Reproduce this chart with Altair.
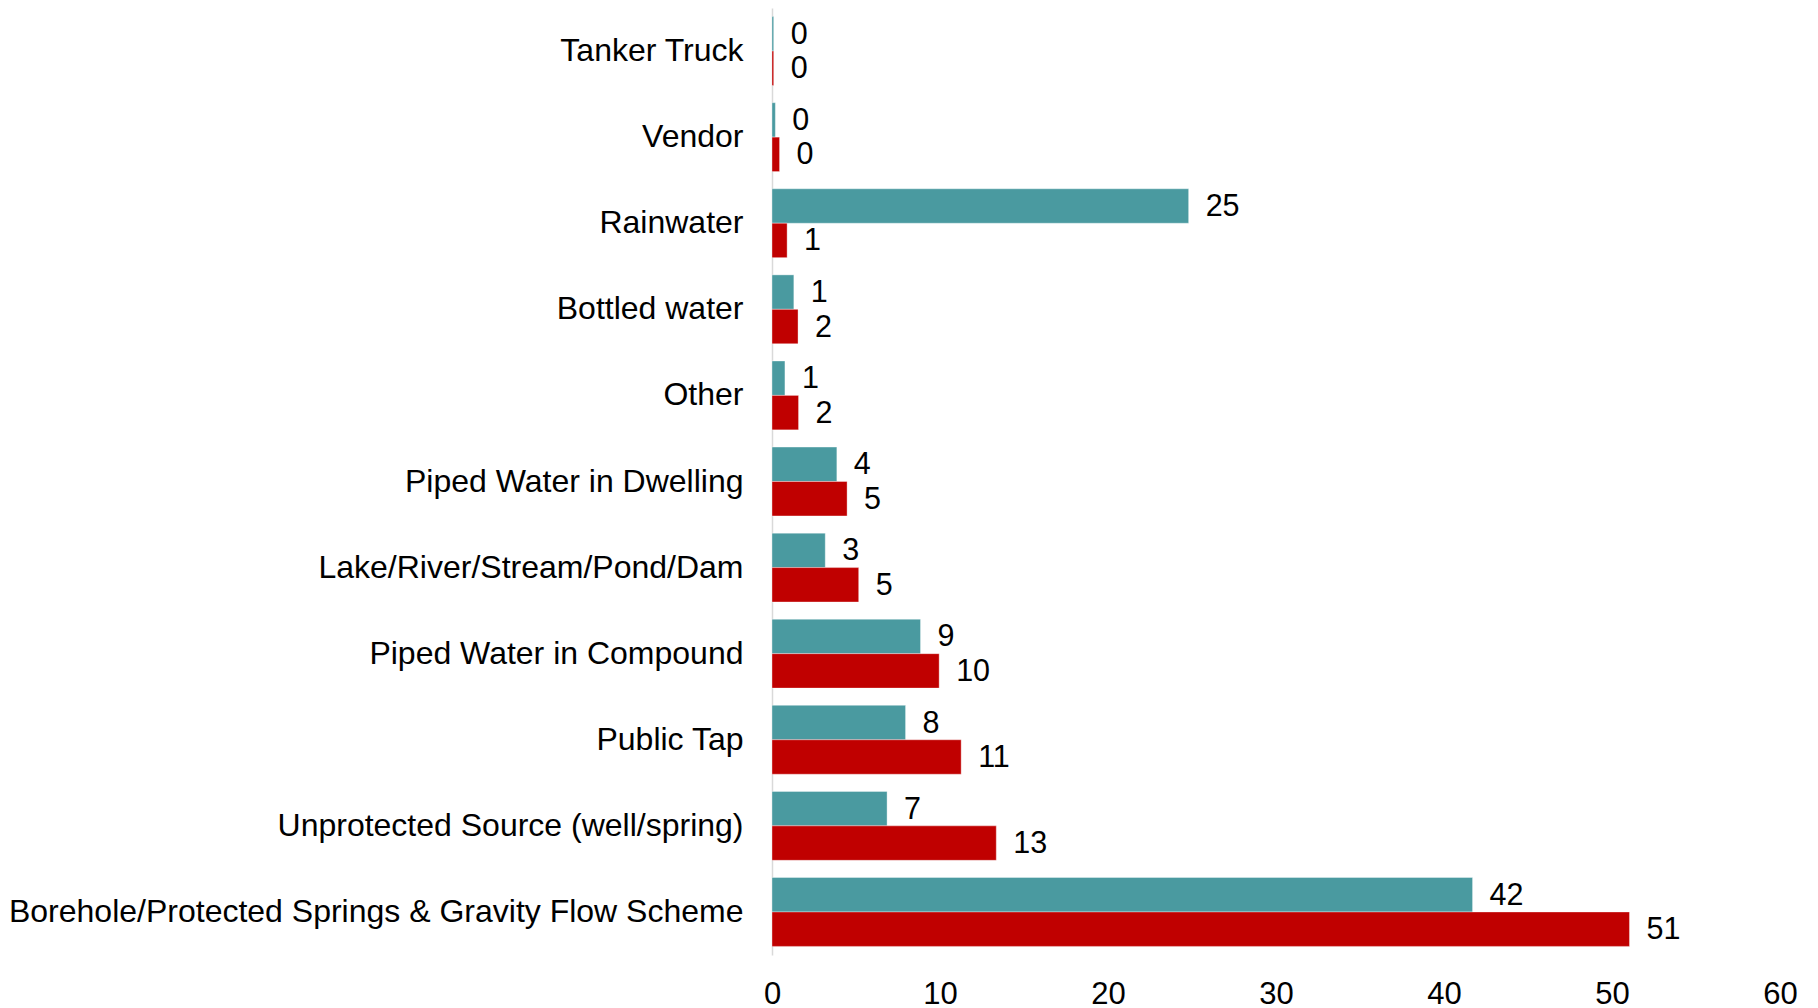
import altair as alt
import pandas as pd

categories = [
    "Tanker Truck",
    "Vendor",
    "Rainwater",
    "Bottled water",
    "Other",
    "Piped Water in Dwelling",
    "Lake/River/Stream/Pond/Dam",
    "Piped Water in Compound",
    "Public Tap",
    "Unprotected Source (well/spring)",
    "Borehole/Protected Springs & Gravity Flow Scheme",
]
series_names = ["Series 1", "Series 2"]
series1_values = [0.1, 0.2, 24.8, 1.3, 0.77, 3.86, 3.17, 8.84, 7.95, 6.85, 41.7]
series2_values = [0.1, 0.45, 0.9, 1.55, 1.58, 4.47, 5.16, 9.95, 11.26, 13.35, 51.04]
series1_labels = ["0", "0", "25", "1", "1", "4", "3", "9", "8", "7", "42"]
series2_labels = ["0", "0", "1", "2", "2", "5", "5", "10", "11", "13", "51"]
colors = ["#4A9AA0", "#C00000"]
x_ticks = [0, 10, 20, 30, 40, 50, 60]

rows = []
for i, c in enumerate(categories):
    rows.append({"category": c, "series": series_names[0], "value": series1_values[i], "label": series1_labels[i]})
    rows.append({"category": c, "series": series_names[1], "value": series2_values[i], "label": series2_labels[i]})
df = pd.DataFrame(rows)

FONT = "Liberation Sans"

y_enc = alt.Y(
    "category:N",
    sort=categories,
    title=None,
    scale=alt.Scale(paddingInner=0.2, paddingOuter=0.1),
    axis=alt.Axis(
        labelFont=FONT,
        labelFontSize=32,
        labelColor="#000000",
        labelPadding=29,
        labelLimit=1000,
        ticks=False,
        domain=True,
        domainColor="#D9D9D9",
        domainWidth=1.5,
        grid=False,
    ),
)
x_enc = alt.X(
    "value:Q",
    title=None,
    scale=alt.Scale(domain=[0, 60], nice=False),
    axis=alt.Axis(
        values=x_ticks,
        labelFont=FONT,
        labelFontSize=31,
        labelColor="#000000",
        labelPadding=24,
        labelFlush=False,
        labelOverlap=False,
        ticks=False,
        domain=False,
        grid=False,
    ),
)
yoff = alt.YOffset("series:N", sort=series_names)

bars = alt.Chart(df).mark_bar(stroke="#FFFFFF", strokeWidth=0.6, strokeOpacity=0.6).encode(
    x=x_enc,
    y=y_enc,
    yOffset=yoff,
    color=alt.Color(
        "series:N",
        scale=alt.Scale(domain=series_names, range=colors),
        legend=None,
    ),
)

texts = alt.Chart(df).mark_text(
    align="left", baseline="middle", dx=17, dy=1, font=FONT, fontSize=30.5, color="#000000"
).encode(
    x="value:Q",
    y=alt.Y("category:N", sort=categories),
    yOffset=yoff,
    text="label:N",
)

chart = (
    alt.layer(bars, texts)
    .properties(
        width=1008,
        height=947,
        background="#FFFFFF",
        padding={"left": 0, "top": 0, "right": 5, "bottom": 5},
    )
    .configure_view(strokeWidth=0, stroke="transparent")
)

chart.save("out.html", embed_options={"renderer": "svg", "actions": False})
